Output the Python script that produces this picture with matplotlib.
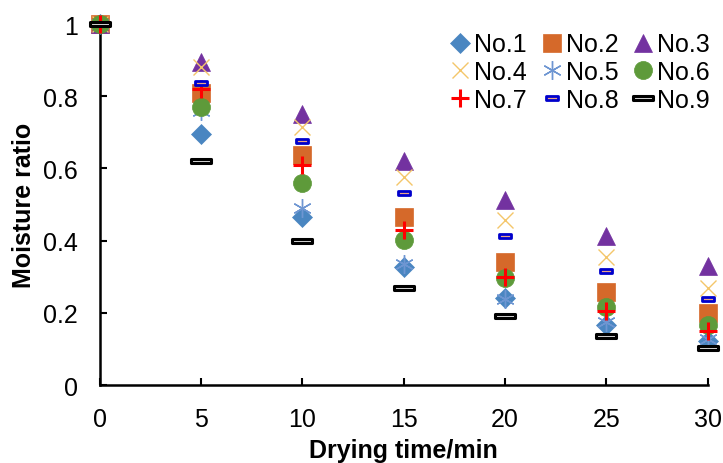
import matplotlib
matplotlib.use("Agg")
import matplotlib.pyplot as plt
from matplotlib.path import Path

plt.rcParams['font.family'] = ['Liberation Sans', 'DejaVu Sans']

times = [0, 5, 10, 15, 20, 25, 30]
labels = ["No.1", "No.2", "No.3", "No.4", "No.5", "No.6", "No.7", "No.8", "No.9"]
no1 = [1.0, 0.695, 0.465, 0.327, 0.240, 0.165, 0.122]
no2 = [1.0, 0.810, 0.637, 0.465, 0.340, 0.257, 0.200]
no3 = [1.0, 0.895, 0.750, 0.620, 0.513, 0.413, 0.330]
no4 = [1.0, 0.880, 0.715, 0.577, 0.457, 0.355, 0.270]
no5 = [1.0, 0.760, 0.490, 0.335, 0.238, 0.175, 0.127]
no6 = [1.0, 0.770, 0.560, 0.402, 0.296, 0.217, 0.166]
no7 = [1.0, 0.820, 0.610, 0.430, 0.300, 0.205, 0.150]
no8 = [1.0, 0.837, 0.676, 0.532, 0.413, 0.316, 0.238]
no9 = [1.0, 0.620, 0.400, 0.270, 0.192, 0.136, 0.102]
series = [no1, no2, no3, no4, no5, no6, no7, no8, no9]

rect8 = Path([(-1, -0.42), (1, -0.42), (1, 0.42), (-1, 0.42), (-1, -0.42)],
             [Path.MOVETO, Path.LINETO, Path.LINETO, Path.LINETO, Path.CLOSEPOLY])
rect9 = Path([(-1, -0.25), (1, -0.25), (1, 0.25), (-1, 0.25), (-1, -0.25)],
             [Path.MOVETO, Path.LINETO, Path.LINETO, Path.LINETO, Path.CLOSEPOLY])

styles = [
    dict(marker='D', ms=10.5, mfc='#4A86C1', mec='#4A86C1', mew=0.5),
    dict(marker='s', ms=12.5, mfc='#D5692A', mec='#D5692A', mew=0.5),
    dict(marker='^', ms=13, mfc='#7332A0', mec='#7332A0', mew=0.5),
    dict(marker='x', ms=12, mfc='none', mec='#F4C66A', mew=1.0),
    dict(marker=(6, 2, 0), ms=13.5, mfc='none', mec='#6E96D2', mew=1.0),
    dict(marker='o', ms=13, mfc='#5E9A3A', mec='#5E9A3A', mew=0.5),
    dict(marker='+', ms=13, mfc='none', mec='#FF0000', mew=2.2),
    dict(marker=rect8, ms=8, mfc='#E9A58A', mec='#0000CC', mew=2.0),
    dict(marker=rect9, ms=14, mfc='#D9D9D9', mec='#000000', mew=2.2),
]

fig = plt.figure(figsize=(7.23, 4.64), dpi=100)
ax = fig.add_axes([0.138, 0.168, 0.841, 0.778])

handles = []
for i, (vals, st) in enumerate(zip(series, styles)):
    h, = ax.plot(times, vals, linestyle='none', label=labels[i], clip_on=False,
                 zorder=3 + i * 0.01, **st)
    handles.append(h)

ax.set_xlim(0, 30)
ax.set_ylim(0, 1)
ax.set_xticks(times)
ax.set_yticks([0, 0.2, 0.4, 0.6, 0.8, 1.0])
ax.set_yticklabels(["0", "0.2", "0.4", "0.6", "0.8", "1"])
ax.tick_params(direction='in', length=5, width=1.5, labelsize=18)
ax.tick_params(axis='x', pad=16)
ax.tick_params(axis='y', pad=16)
for s in ['top', 'right']:
    ax.spines[s].set_visible(False)
for s in ['left', 'bottom']:
    ax.spines[s].set_linewidth(1.8)

ax.set_xlabel("Drying time/min", fontsize=18, fontweight='bold', labelpad=5)
ax.set_ylabel("Moisture ratio", fontsize=18, fontweight='bold', labelpad=5)

order = [0, 3, 6, 1, 4, 7, 2, 5, 8]
leg = ax.legend(handles=[handles[k] for k in order], ncol=3, loc='upper right',
                bbox_to_anchor=(1.02, 1.005), frameon=False, fontsize=18,
                handlelength=0.8, handletextpad=0.15, columnspacing=0.6,
                labelspacing=0.15, borderaxespad=0.0, numpoints=1)

fig.savefig("out.png", dpi=100)
